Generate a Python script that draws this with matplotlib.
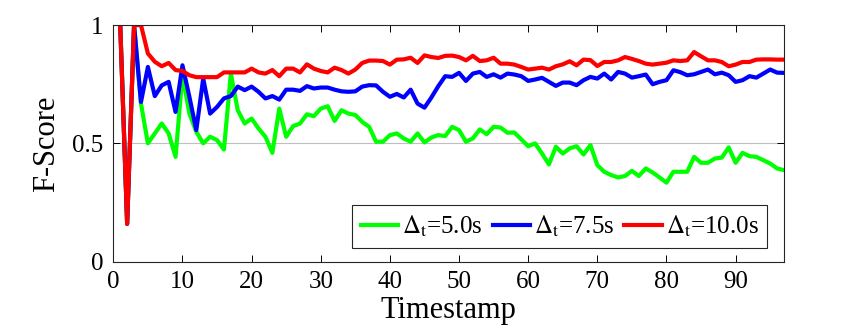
import numpy as np
import matplotlib
matplotlib.use("Agg")
import matplotlib.pyplot as plt

plt.rcParams["font.family"] = ["Liberation Serif", "DejaVu Serif"]
plt.rcParams["mathtext.fontset"] = "stix"

timestamps = np.arange(1, 98)

fscore_5s = [
    1.0, 0.16, 1.0, 0.668, 0.50, 0.542, 0.584, 0.542, 0.443, 0.79,
    0.626, 0.549, 0.50, 0.528, 0.514, 0.474, 0.795, 0.64, 0.584, 0.605,
    0.563, 0.528, 0.46, 0.647, 0.528, 0.573, 0.584, 0.623, 0.615, 0.647,
    0.657, 0.595, 0.64, 0.626, 0.62, 0.591, 0.57, 0.507, 0.507, 0.535,
    0.542, 0.521, 0.507, 0.542, 0.504, 0.525, 0.535, 0.531, 0.57, 0.556,
    0.507, 0.521, 0.559, 0.539, 0.570, 0.567, 0.545, 0.546, 0.517, 0.488,
    0.50, 0.457, 0.411, 0.486, 0.457, 0.479, 0.488, 0.453, 0.493, 0.408,
    0.38, 0.366, 0.356, 0.362, 0.384, 0.362, 0.394, 0.377, 0.356, 0.334,
    0.38, 0.38, 0.38, 0.443, 0.418, 0.418, 0.436, 0.44, 0.483, 0.418,
    0.46, 0.446, 0.443, 0.429, 0.415, 0.394, 0.387,
]

fscore_7_5s = [
    1.0, 0.16, 1.0, 0.675, 0.823, 0.70, 0.745, 0.76, 0.633, 0.83,
    0.697, 0.556, 0.774, 0.626, 0.654, 0.69, 0.70, 0.74, 0.725, 0.74,
    0.718, 0.69, 0.70, 0.685, 0.727, 0.727, 0.722, 0.742, 0.732, 0.736,
    0.736, 0.727, 0.72, 0.718, 0.72, 0.74, 0.746, 0.745, 0.718, 0.697,
    0.709, 0.694, 0.727, 0.668, 0.651, 0.694, 0.742, 0.784, 0.781, 0.798,
    0.764, 0.795, 0.802, 0.781, 0.792, 0.778, 0.795, 0.791, 0.784, 0.764,
    0.77, 0.777, 0.76, 0.743, 0.757, 0.757, 0.746, 0.767, 0.781, 0.774,
    0.795, 0.77, 0.802, 0.795, 0.778, 0.784, 0.791, 0.75, 0.76, 0.767,
    0.809, 0.801, 0.788, 0.792, 0.802, 0.812, 0.792, 0.799, 0.788, 0.76,
    0.767, 0.784, 0.778, 0.795, 0.812, 0.799, 0.798,
]

fscore_10s = [
    1.0, 0.16, 1.0, 1.0, 0.88, 0.845, 0.826, 0.84, 0.81, 0.806,
    0.788, 0.78, 0.78, 0.78, 0.78, 0.80, 0.80, 0.80, 0.80, 0.816,
    0.80, 0.795, 0.81, 0.784, 0.816, 0.816, 0.80, 0.834, 0.816, 0.806,
    0.80, 0.82, 0.81, 0.795, 0.812, 0.84, 0.85, 0.85, 0.848, 0.833,
    0.854, 0.855, 0.862, 0.84, 0.872, 0.865, 0.861, 0.87, 0.871, 0.865,
    0.851, 0.87, 0.848, 0.851, 0.862, 0.837, 0.837, 0.833, 0.823, 0.812,
    0.816, 0.82, 0.812, 0.826, 0.834, 0.847, 0.83, 0.854, 0.852, 0.827,
    0.844, 0.844, 0.851, 0.865, 0.857, 0.848, 0.837, 0.833, 0.837, 0.841,
    0.851, 0.848, 0.851, 0.886, 0.868, 0.851, 0.851, 0.844, 0.826, 0.833,
    0.844, 0.844, 0.854, 0.855, 0.855, 0.854, 0.854,
]

labels = [r"$\Delta_\mathrm{t}$=5.0s", r"$\Delta_\mathrm{t}$=7.5s", r"$\Delta_\mathrm{t}$=10.0s"]

fig = plt.figure(figsize=(8.67, 3.30), dpi=100)
ax = fig.add_axes([0.1307, 0.207, 0.7736, 0.717])

ax.plot(timestamps, fscore_5s, color=(0, 1, 0), lw=3, label=labels[0])
ax.plot(timestamps, fscore_7_5s, color=(0, 0, 1), lw=3, label=labels[1])
ax.plot(timestamps, fscore_10s, color=(1, 0, 0), lw=3, label=labels[2])

ax.set_xlim(0, 97)
ax.set_ylim(0, 1)
ax.set_xticks(range(0, 91, 10))
ax.set_yticks([0, 0.5, 1])
ax.set_yticklabels(["0", "0.5", "1"])
ax.yaxis.grid(True, color="#bfbfbf", lw=0.8)
ax.set_axisbelow(True)
ax.tick_params(direction="in", top=True, right=True, length=5, width=0.7,
               labelsize=18, pad=7)
for s in ax.spines.values():
    s.set_linewidth(0.8)
    s.set_color("#262626")

ax.set_xlabel("Timestamp", fontsize=22, labelpad=2)
ax.set_ylabel("F-Score", fontsize=22, labelpad=8)

leg = ax.legend(loc="lower right", ncol=3, fontsize=18, frameon=True, fancybox=False,
                edgecolor="#262626", framealpha=1, handlelength=1.5, columnspacing=0.4,
                handletextpad=0.15, borderpad=0.35, borderaxespad=0,
                bbox_to_anchor=(0.975, 0.058))
leg.get_frame().set_linewidth(0.8)

fig.savefig("out.png", dpi=100)
